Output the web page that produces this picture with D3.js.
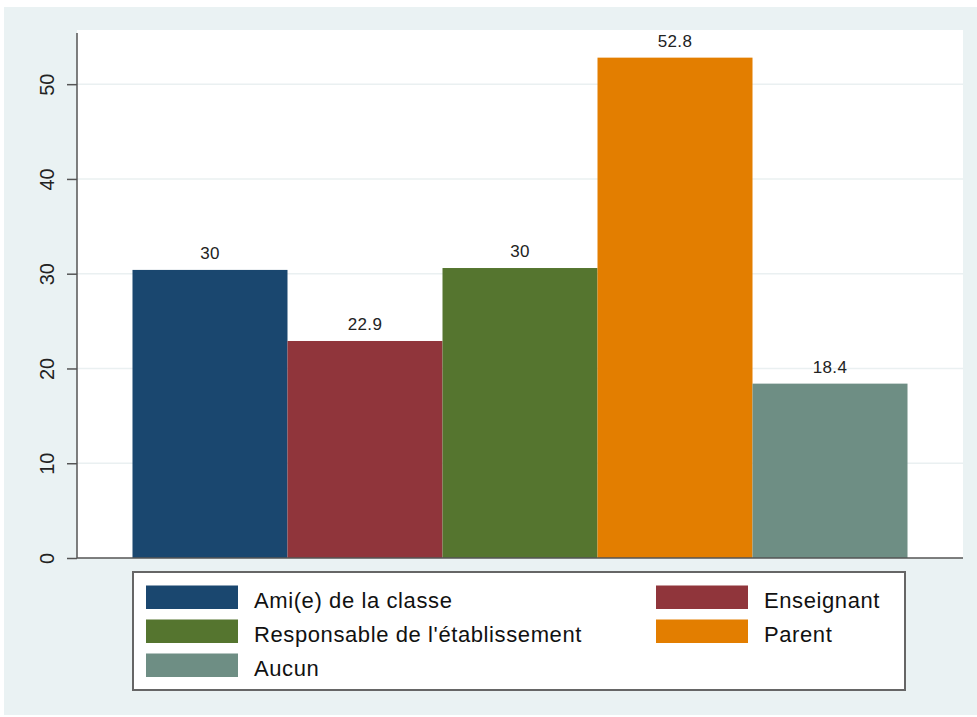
<!DOCTYPE html>
<html>
<head>
<meta charset="utf-8">
<script src="https://cdn.jsdelivr.net/npm/d3@7"></script>
<style>
  html, body { margin: 0; padding: 0; background: #ffffff; }
  svg { display: block; font-family: "Liberation Sans", Arial, Helvetica, sans-serif; }
</style>
</head>
<body>
<svg id="chart" width="977" height="717"></svg>
<script>
// ---- data ----
const categories = ["Ami(e) de la classe", "Enseignant", "Responsable de l'établissement", "Parent", "Aucun"];
const values = [30.4, 22.9, 30.6, 52.8, 18.4];
const valueLabels = ["30", "22.9", "30", "52.8", "18.4"];
const colors = ["#1a476f", "#90353b", "#55752f", "#e37e00", "#6e8e84"];
const yTicks = [0, 10, 20, 30, 40, 50];
// legend order (two columns, row-major)
const legendOrder = [0, 1, 2, 3, 4];

const svg = d3.select("#chart");

// outer background (Stata s2color)
svg.append("rect").attr("x", 4).attr("y", 7).attr("width", 973).attr("height", 708)
  .attr("fill", "#eaf2f3");

const plot = { left: 77, right: 963, top: 30, bottom: 558 };

svg.append("rect").attr("x", plot.left).attr("y", plot.top)
  .attr("width", plot.right - plot.left).attr("height", plot.bottom - plot.top)
  .attr("fill", "#ffffff");

const x = d3.scaleBand().domain(categories).range([plot.left, plot.right])
  .paddingInner(0).paddingOuter(0.358);
const y = d3.scaleLinear().domain([0, 55.4]).range([plot.bottom, 33]);

// gridlines
svg.append("g").selectAll("line").data(yTicks.filter(d => d > 0)).join("line")
  .attr("x1", plot.left).attr("x2", plot.right)
  .attr("y1", d => y(d)).attr("y2", d => y(d))
  .attr("stroke", "#eaf0f1").attr("stroke-width", 1.5);

// bars
svg.append("g").selectAll("rect").data(categories).join("rect")
  .attr("x", d => x(d)).attr("width", x.bandwidth())
  .attr("y", (d, i) => y(values[i])).attr("height", (d, i) => y(0) - y(values[i]))
  .attr("fill", (d, i) => colors[i]);

// value labels
svg.append("g").selectAll("text").data(categories).join("text")
  .attr("x", d => x(d) + x.bandwidth() / 2)
  .attr("y", (d, i) => y(values[i]) - 11)
  .attr("text-anchor", "middle")
  .attr("font-size", "17px").attr("letter-spacing", "0.3px")
  .attr("fill", "#222")
  .text((d, i) => valueLabels[i]);

// y axis
const yAxis = d3.axisLeft(y).tickValues(yTicks).tickSize(10).tickPadding(0).tickFormat(d3.format("d"));
const gy = svg.append("g").attr("transform", `translate(${plot.left},0)`).call(yAxis);
gy.select(".domain").remove();
gy.selectAll(".tick line").attr("stroke", "#555").attr("stroke-width", 1.5);
gy.selectAll(".tick text").remove();
gy.selectAll(".tick").append("text")
  .attr("transform", "translate(-23,0) rotate(-90)")
  .attr("text-anchor", "middle")
  .attr("font-size", "20px")
  .attr("fill", "#222")
  .attr("font-family", "'Liberation Sans', Arial, sans-serif")
  .text(d => d);

svg.append("line").attr("x1", plot.left).attr("x2", plot.left)
  .attr("y1", 33).attr("y2", plot.bottom)
  .attr("stroke", "#555").attr("stroke-width", 1.5);
svg.append("line").attr("x1", plot.left).attr("x2", plot.right)
  .attr("y1", plot.bottom).attr("y2", plot.bottom)
  .attr("stroke", "#555").attr("stroke-width", 1.5);

// legend
const lg = svg.append("g");
lg.append("rect").attr("x", 133).attr("y", 572).attr("width", 772).attr("height", 118)
  .attr("fill", "#ffffff").attr("stroke", "#666").attr("stroke-width", 2);

const colX = [146, 656];
const rowY = [585.5, 619.5, 653.5];
legendOrder.forEach((ci, k) => {
  const col = k % 2, row = Math.floor(k / 2);
  lg.append("rect").attr("x", colX[col]).attr("y", rowY[row])
    .attr("width", 92).attr("height", 23.5).attr("fill", colors[ci]);
  lg.append("text").attr("x", colX[col] + 108).attr("y", rowY[row] + 22.5)
    .attr("font-size", "22px").attr("letter-spacing", "0.6px")
    .attr("fill", "#111")
    .text(categories[ci]);
});
</script>
</body>
</html>
